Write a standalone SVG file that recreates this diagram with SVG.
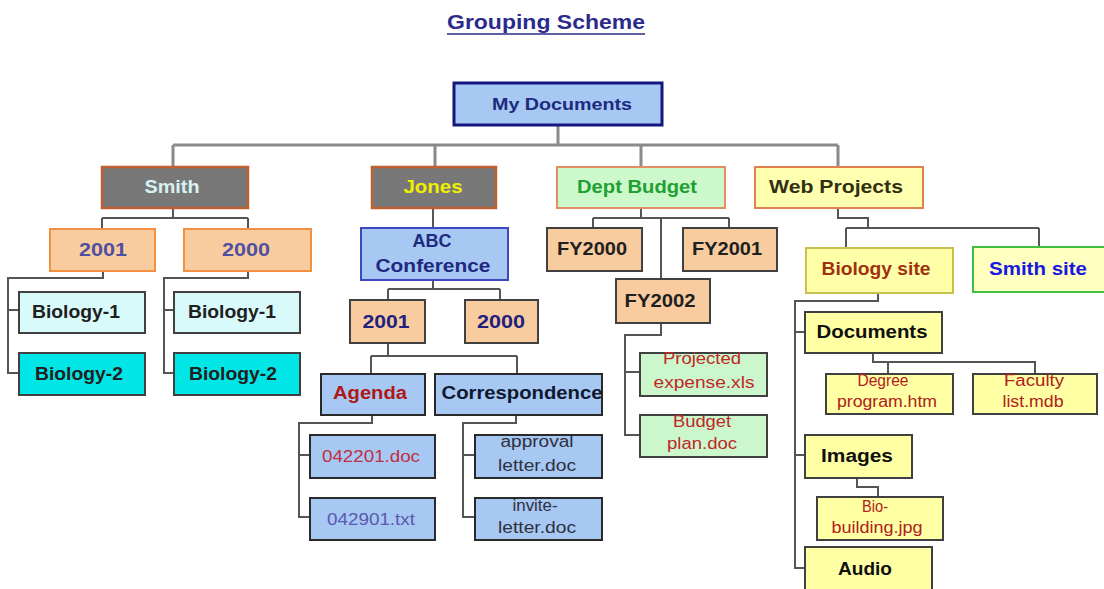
<svg xmlns="http://www.w3.org/2000/svg" width="1104" height="589" viewBox="0 0 1104 589">
<style>
text{font-family:"Liberation Sans",Arial,sans-serif;text-anchor:middle}
.b{font-weight:bold;font-size:18px}
.n{font-size:16px}
.bus{fill:none;stroke:#8a8a8a;stroke-width:3}
.c{fill:none;stroke:#555;stroke-width:2}
.blue{fill:#a6c8f2;stroke:#2a2a2a;stroke-width:2}
.peach{fill:#f8cc9e;stroke:#404040;stroke-width:2}
.green{fill:#ccf7cc;stroke:#404040;stroke-width:2}
.yel{fill:#ffffa4;stroke:#404040;stroke-width:2}
.gray{fill:#787878;stroke:#c06030;stroke-width:2.5}
</style>
<g id="title">
<text x="546" y="29" style="font-weight:bold;font-size:20px;fill:#2b2b8c" textLength="198" lengthAdjust="spacingAndGlyphs">Grouping Scheme</text>
<line x1="447" y1="34" x2="645" y2="34" stroke="#2b2b8c" stroke-width="1.5"/>
</g>
<g id="connectors">
<path class="bus" d="M558 125V145M173 145H838M173 145V167M435 145V167M641 145V167M838 145V167"/>
<path class="c" d="M173 208V218M102 218H248M102 218V229M248 218V229"/>
<path class="c" d="M103 271V278H8V373H19M8 310H19"/>
<path class="c" d="M248 271V278H164V373H174M164 310H174"/>
<path class="c" d="M433 208V228M433 280V289M388 289H500M388 289V300M500 289V300"/>
<path class="c" d="M388 343V356M371 356H517M371 356V374M517 356V374"/>
<path class="c" d="M372 415V423H299V517H310M299 455H310"/>
<path class="c" d="M516 415V423H463V517H475M463 455H475"/>
<path class="c" d="M641 209V218M593 218H729M593 218V228M729 218V228M661 218V279"/>
<path class="c" d="M661 323V335H625V435H640M625 372H640"/>
<path class="c" d="M838 209V218H868V228M846 228H1039M846 228V248M1039 228V248"/>
<path class="c" d="M878 293V301H795V568H805M795 332H805M795 455H805"/>
<path class="c" d="M873 353V362H1035V374M888 362V374"/>
<path class="c" d="M857 478V487H878V497"/>
</g>
<g id="my-documents">
<rect x="454" y="83" width="208" height="42" fill="#a6c8f2" stroke="#14187e" stroke-width="3"/>
<text class="b" x="562" y="110" fill="#1c2a80" style="font-size:17px" textLength="140" lengthAdjust="spacingAndGlyphs">My Documents</text>
</g>
<g id="smith">
<rect class="gray" x="102" y="167" width="146" height="41"/>
<text class="b" x="172" y="193" fill="#d8f2f2" textLength="55" lengthAdjust="spacingAndGlyphs">Smith</text>
</g>
<g id="jones">
<rect class="gray" x="372" y="167" width="124" height="41"/>
<text class="b" x="433" y="193" fill="#f0f000" textLength="59" lengthAdjust="spacingAndGlyphs">Jones</text>
</g>
<g id="dept-budget">
<rect x="557" y="167" width="168" height="41" fill="#ccf8cc" stroke="#e09060" stroke-width="2"/>
<text class="b" x="637" y="193" fill="#20a030" textLength="120" lengthAdjust="spacingAndGlyphs">Dept Budget</text>
</g>
<g id="web-projects">
<rect x="755" y="167" width="168" height="41" fill="#ffffb0" stroke="#e08050" stroke-width="2"/>
<text class="b" x="836" y="193" fill="#303010" textLength="134" lengthAdjust="spacingAndGlyphs">Web Projects</text>
</g>
<g id="smith-2001">
<rect x="50" y="229" width="105" height="42" fill="#f8cc9e" stroke="#f09040" stroke-width="2"/>
<text class="b" x="103" y="256" fill="#5050a0" textLength="48" lengthAdjust="spacingAndGlyphs">2001</text>
</g>
<g id="smith-2000">
<rect x="184" y="229" width="127" height="42" fill="#f8cc9e" stroke="#f09040" stroke-width="2"/>
<text class="b" x="246" y="256" fill="#5050a0" textLength="48" lengthAdjust="spacingAndGlyphs">2000</text>
</g>
<g id="smith-2001-bio1">
<rect x="19" y="292" width="126" height="41" fill="#d8fafa" stroke="#404040" stroke-width="2"/>
<text class="b" x="76" y="318" fill="#202020" textLength="88" lengthAdjust="spacingAndGlyphs">Biology-1</text>
</g>
<g id="smith-2001-bio2">
<rect x="19" y="353" width="126" height="42" fill="#00e6e6" stroke="#404040" stroke-width="2"/>
<text class="b" x="79" y="380" fill="#202020" textLength="88" lengthAdjust="spacingAndGlyphs">Biology-2</text>
</g>
<g id="smith-2000-bio1">
<rect x="174" y="292" width="126" height="41" fill="#d8fafa" stroke="#404040" stroke-width="2"/>
<text class="b" x="232" y="318" fill="#202020" textLength="88" lengthAdjust="spacingAndGlyphs">Biology-1</text>
</g>
<g id="smith-2000-bio2">
<rect x="174" y="353" width="126" height="42" fill="#00e6e6" stroke="#404040" stroke-width="2"/>
<text class="b" x="233" y="380" fill="#202020" textLength="88" lengthAdjust="spacingAndGlyphs">Biology-2</text>
</g>
<g id="abc-conference">
<rect x="361" y="228" width="147" height="52" fill="#a6c8f2" stroke="#4048c0" stroke-width="2"/>
<text class="b" x="432" y="247" fill="#202880" textLength="39" lengthAdjust="spacingAndGlyphs">ABC</text>
<text class="b" x="433" y="272" fill="#202880" textLength="115" lengthAdjust="spacingAndGlyphs">Conference</text>
</g>
<g id="jones-2001">
<rect class="peach" x="350" y="300" width="75" height="43"/>
<text class="b" x="386" y="328" fill="#202080" textLength="47" lengthAdjust="spacingAndGlyphs">2001</text>
</g>
<g id="jones-2000">
<rect class="peach" x="465" y="300" width="73" height="43"/>
<text class="b" x="501" y="328" fill="#202080" textLength="48" lengthAdjust="spacingAndGlyphs">2000</text>
</g>
<g id="agenda">
<rect class="blue" x="321" y="374" width="104" height="41"/>
<text class="b" x="370" y="399" fill="#b01818" textLength="74" lengthAdjust="spacingAndGlyphs">Agenda</text>
</g>
<g id="correspondence">
<rect class="blue" x="435" y="374" width="167" height="41"/>
<text class="b" x="522" y="399" fill="#101830" textLength="161" lengthAdjust="spacingAndGlyphs">Correspondence</text>
</g>
<g id="doc-042201">
<rect class="blue" x="310" y="435" width="125" height="43"/>
<text class="n" x="371" y="462" fill="#c03040" textLength="98" lengthAdjust="spacingAndGlyphs">042201.doc</text>
</g>
<g id="txt-042901">
<rect class="blue" x="310" y="498" width="125" height="42"/>
<text class="n" x="371" y="525" fill="#5a58b0" textLength="88" lengthAdjust="spacingAndGlyphs">042901.txt</text>
</g>
<g id="approval-letter">
<rect class="blue" x="475" y="435" width="127" height="43"/>
<text class="n" x="537" y="447" fill="#303040" textLength="73" lengthAdjust="spacingAndGlyphs">approval</text>
<text class="n" x="537" y="471" fill="#303040" textLength="78" lengthAdjust="spacingAndGlyphs">letter.doc</text>
</g>
<g id="invite-letter">
<rect class="blue" x="475" y="498" width="127" height="42"/>
<text class="n" x="535" y="511" fill="#303040" textLength="45" lengthAdjust="spacingAndGlyphs">invite-</text>
<text class="n" x="537" y="533" fill="#303040" textLength="78" lengthAdjust="spacingAndGlyphs">letter.doc</text>
</g>
<g id="fy2000">
<rect class="peach" x="547" y="228" width="95" height="43"/>
<text class="b" x="592" y="255" fill="#202020" textLength="70" lengthAdjust="spacingAndGlyphs">FY2000</text>
</g>
<g id="fy2001">
<rect class="peach" x="683" y="228" width="94" height="43"/>
<text class="b" x="727" y="255" fill="#202020" textLength="70" lengthAdjust="spacingAndGlyphs">FY2001</text>
</g>
<g id="fy2002">
<rect class="peach" x="616" y="279" width="94" height="44"/>
<text class="b" x="660" y="307" fill="#202020" textLength="71" lengthAdjust="spacingAndGlyphs">FY2002</text>
</g>
<g id="projected-expense">
<rect class="green" x="640" y="353" width="127" height="43"/>
<text class="n" x="702" y="364" fill="#c02828" textLength="78" lengthAdjust="spacingAndGlyphs">Projected</text>
<text class="n" x="704" y="388" fill="#c02828" textLength="101" lengthAdjust="spacingAndGlyphs">expense.xls</text>
</g>
<g id="budget-plan">
<rect class="green" x="640" y="415" width="127" height="42"/>
<text class="n" x="702" y="427" fill="#c02828" textLength="58" lengthAdjust="spacingAndGlyphs">Budget</text>
<text class="n" x="702" y="449" fill="#c02828" textLength="70" lengthAdjust="spacingAndGlyphs">plan.doc</text>
</g>
<g id="biology-site">
<rect x="806" y="248" width="147" height="45" fill="#ffffa8" stroke="#c8c050" stroke-width="2"/>
<text class="b" x="876" y="275" fill="#a03010" textLength="109" lengthAdjust="spacingAndGlyphs">Biology site</text>
</g>
<g id="smith-site">
<rect x="973" y="247" width="140" height="45" fill="#ffffc0" stroke="#40c040" stroke-width="2"/>
<text class="b" x="1038" y="275" fill="#1818e0" textLength="98" lengthAdjust="spacingAndGlyphs">Smith site</text>
</g>
<g id="documents">
<rect class="yel" x="805" y="312" width="137" height="41"/>
<text class="b" x="872" y="338" fill="#101010" textLength="111" lengthAdjust="spacingAndGlyphs">Documents</text>
</g>
<g id="degree-program">
<rect class="yel" x="826" y="374" width="127" height="40"/>
<text class="n" x="883" y="386" fill="#b02020" textLength="51" lengthAdjust="spacingAndGlyphs">Degree</text>
<text class="n" x="887" y="407" fill="#b02020" textLength="100" lengthAdjust="spacingAndGlyphs">program.htm</text>
</g>
<g id="faculty-list">
<rect class="yel" x="973" y="374" width="124" height="40"/>
<text class="n" x="1034" y="386" fill="#b02020" textLength="60" lengthAdjust="spacingAndGlyphs">Faculty</text>
<text class="n" x="1033" y="407" fill="#b02020" textLength="61" lengthAdjust="spacingAndGlyphs">list.mdb</text>
</g>
<g id="images">
<rect class="yel" x="805" y="435" width="107" height="43"/>
<text class="b" x="857" y="462" fill="#101010" textLength="72" lengthAdjust="spacingAndGlyphs">Images</text>
</g>
<g id="bio-building">
<rect class="yel" x="817" y="497" width="126" height="43"/>
<text class="n" x="875" y="512" fill="#b02020" textLength="26" lengthAdjust="spacingAndGlyphs">Bio-</text>
<text class="n" x="877" y="533" fill="#b02020" textLength="91" lengthAdjust="spacingAndGlyphs">building.jpg</text>
</g>
<g id="audio">
<rect class="yel" x="805" y="547" width="127" height="50"/>
<text class="b" x="865" y="575" fill="#101010" textLength="54" lengthAdjust="spacingAndGlyphs">Audio</text>
</g>
</svg>
